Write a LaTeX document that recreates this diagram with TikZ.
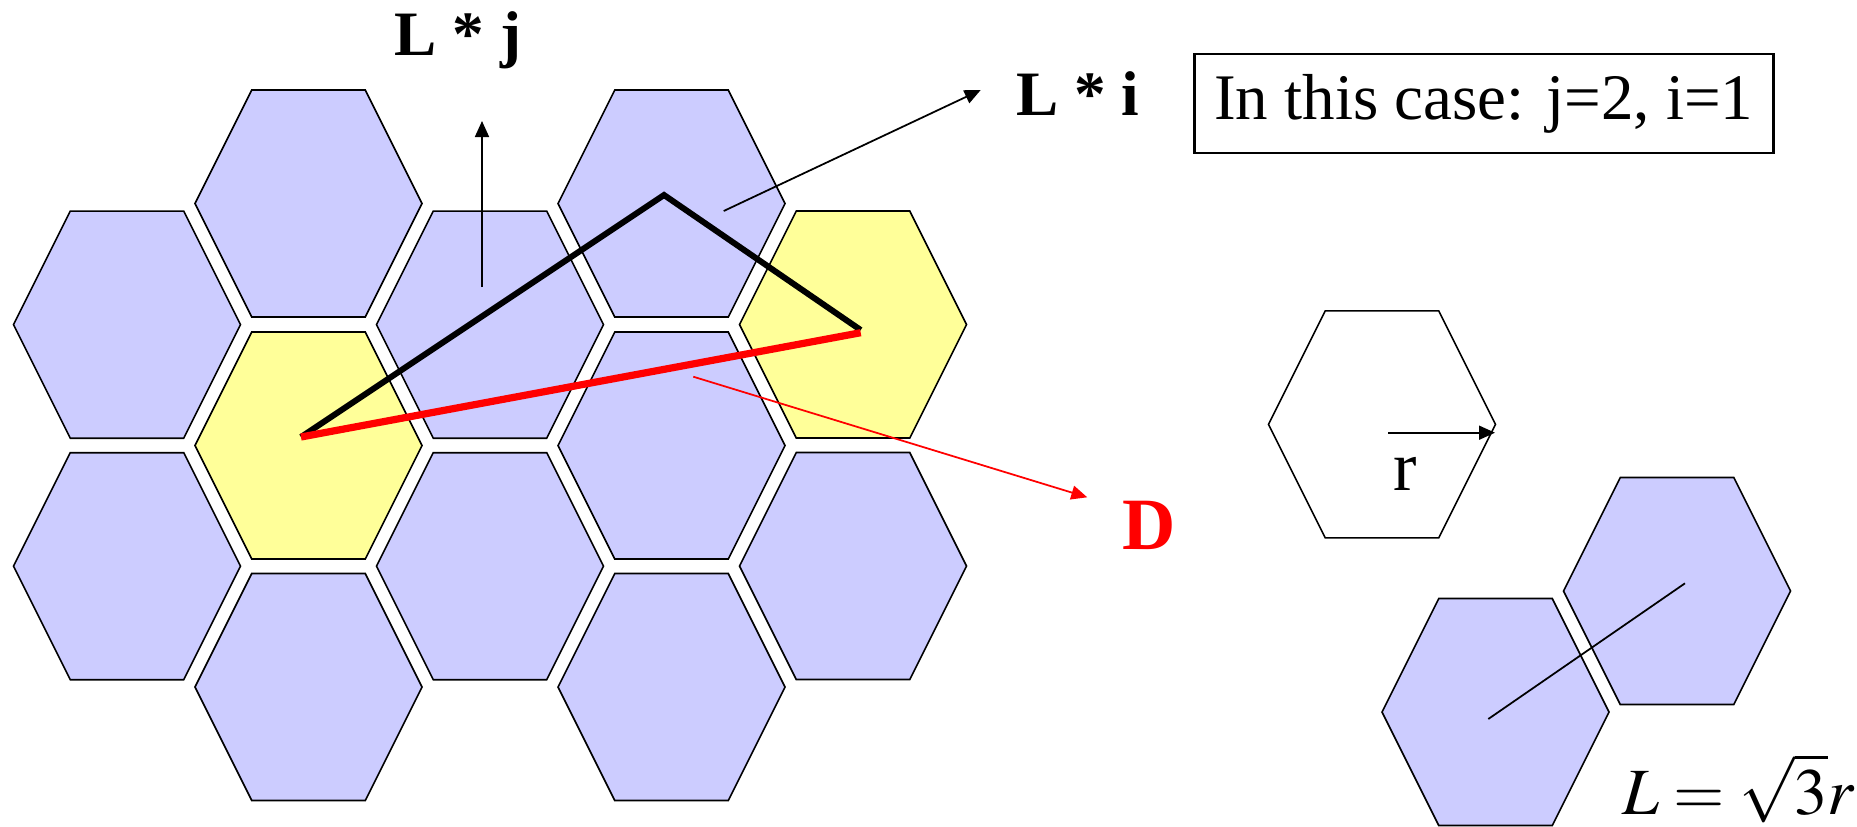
\documentclass[tikz,border=0pt]{standalone}
\usepackage{mathptmx}
\usepackage[no-math]{fontspec}
\setmainfont{Liberation Serif}
\usetikzlibrary{arrows.meta}
\definecolor{hexblue}{RGB}{204,204,255}
\definecolor{hexyellow}{RGB}{255,255,153}
\tikzset{
  hexline/.style={draw=black,line width=0.9pt,line join=miter},
  pics/hexcell/.style={code={\path[hexline,fill=#1] (-113.5,0) -- (-56.75,-113.5) -- (56.75,-113.5) -- (113.5,0) -- (56.75,113.5) -- (-56.75,113.5) -- cycle;}},
  thinarrow/.style={line width=1pt,-{Triangle[length=0.32cm,width=0.28cm]}},
  boldlabel/.style={font=\fontsize{36}{40}\selectfont\bfseries, inner sep=0pt, anchor=base},
}
\begin{document}
\begin{tikzpicture}[x=0.02cm,y=-0.02cm]
\useasboundingbox (0,0) rectangle (1857,826);
% honeycomb
\pic at (127,324.7) {hexcell=hexblue};
\pic at (127,566.2) {hexcell=hexblue};
\pic at (308.5,203.5) {hexcell=hexblue};
\pic at (308.5,445.5) {hexcell=hexyellow};
\pic at (308.5,687) {hexcell=hexblue};
\pic at (490,324.7) {hexcell=hexblue};
\pic at (490,566.2) {hexcell=hexblue};
\pic at (671.5,203.5) {hexcell=hexblue};
\pic at (671.5,445.5) {hexcell=hexblue};
\pic at (671.5,687) {hexcell=hexblue};
\pic at (853,324.5) {hexcell=hexyellow};
\pic at (853,566) {hexcell=hexblue};
% single hexagon and pair
\pic at (1382,424.3) {hexcell=white};
\pic at (1677,591) {hexcell=hexblue};
\pic at (1495.5,712) {hexcell=hexblue};

% key points
\coordinate (st) at (301,437);
\coordinate (apex) at (664,195);
\coordinate (en) at (860.7,330);
\coordinate (enr) at (860.7,332.7);
\coordinate (jtail) at (482,287);
\coordinate (jtip) at (482,121);
\coordinate (itail) at (723.7,211);
\coordinate (itip) at (980.7,90);
\coordinate (dtail) at (693.3,376.7);
\coordinate (dtip) at (1087.3,497.3);
\coordinate (rtail) at (1388.3,432.7);
\coordinate (rtip) at (1495,432.7);
\coordinate (la) at (1488.3,719);
\coordinate (lb) at (1685,583.3);

% paths
\draw[line width=3.4pt,line join=miter] (st) -- (apex) -- (en);
\draw[red,line width=4.1pt] (st) -- (enr);
\draw[thinarrow] (jtail) -- (jtip);
\draw[thinarrow] (itail) -- (itip);
\draw[thinarrow,red] (dtail) -- (dtip);
\draw[thinarrow] (rtail) -- (rtip);
\draw[line width=1pt] (la) -- (lb);

% labels
\node[boldlabel] (lj) at (458,55) {L * j};
\node[boldlabel] (li) at (1078,115) {L * i};
\node[font=\fontsize{42}{46}\selectfont\bfseries, text=red, inner sep=0pt, anchor=base] (dlab) at (1148.7,549.3) {D};
\node[font=\fontsize{40}{44}\selectfont, inner sep=0pt, anchor=base] (rlab) at (1405,490) {r};
\node[anchor=base west, inner sep=0pt, font=\fontsize{37.6}{42}\selectfont] (formula) at (1621.7,814) {$L=\sqrt{3}r$};
\node[draw, line width=1.5pt, anchor=west, minimum height=1.98cm, inner xsep=0.4cm, font=\fontsize{37}{40}\selectfont] (casebox) at (1193,103.5) {In this case: j=2, i=1};
\end{tikzpicture}
\end{document}
